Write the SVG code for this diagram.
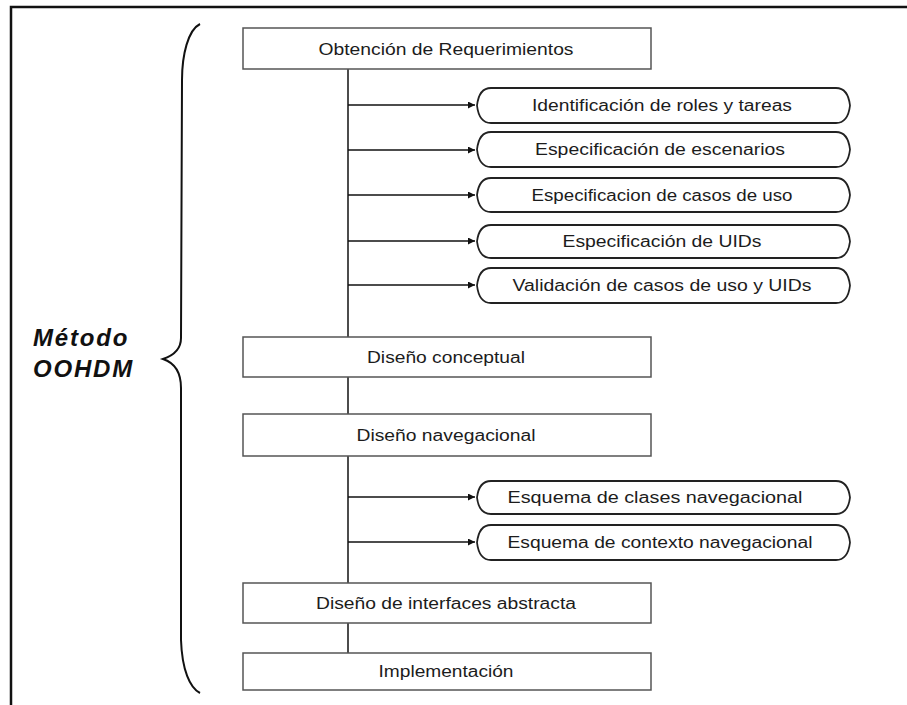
<svg xmlns="http://www.w3.org/2000/svg" width="907" height="705" viewBox="0 0 907 705">
  <style>
    .frame { fill: none; stroke: #111; stroke-width: 2.5; }
    .brace { fill: none; stroke: #111; stroke-width: 2; }
    .box { fill: #fff; stroke: #555; stroke-width: 1.5; }
    .pill { fill: #fff; stroke: #222; stroke-width: 1.8; }
    .lbl { font-family: "Liberation Sans", Arial, sans-serif; font-size: 16px; fill: #1c1c1c; text-anchor: middle; }
    .title { font-family: "Liberation Sans", Arial, sans-serif; font-size: 24px; font-weight: bold; font-style: italic; fill: #111; letter-spacing: 1.8px; }
    .conn { fill: none; stroke: #111; stroke-width: 1.5; }
  </style>
  <defs>
    <marker id="arrow" viewBox="0 0 10 10" refX="10" refY="5" markerWidth="9" markerHeight="7" markerUnits="userSpaceOnUse" orient="auto">
      <path d="M0,0 L10,5 L0,10 Z" fill="#111"/>
    </marker>
  </defs>

  <rect width="907" height="705" fill="#fff"/>

  <!-- outer frame: top and left edges -->
  <path class="frame" d="M11,705 V7 H907"/>

  <!-- curly brace grouping the method phases -->
  <path class="brace" d="M200,24 C188,30 182,55 182,80 L181,338 C181,350 172,356 163,359 C172,362 181,370 181,388 L181,640 C182,670 190,688 200,693"/>

  <g id="method-label">
    <text class="title" x="33" y="346">Método</text>
    <text class="title" x="33" y="377">OOHDM</text>
  </g>

  <!-- connectors -->
  <g id="connectors">
    <line class="conn" x1="348" y1="69" x2="348" y2="337"/>
    <line class="conn" x1="348" y1="377" x2="348" y2="414"/>
    <line class="conn" x1="348" y1="456" x2="348" y2="583"/>
    <line class="conn" x1="348" y1="623" x2="348" y2="653"/>
    <line class="conn" x1="348" y1="105" x2="475" y2="105" marker-end="url(#arrow)"/>
    <line class="conn" x1="348" y1="150" x2="475" y2="150" marker-end="url(#arrow)"/>
    <line class="conn" x1="348" y1="195" x2="475" y2="195" marker-end="url(#arrow)"/>
    <line class="conn" x1="348" y1="241" x2="475" y2="241" marker-end="url(#arrow)"/>
    <line class="conn" x1="348" y1="285" x2="475" y2="285" marker-end="url(#arrow)"/>
    <line class="conn" x1="348" y1="497" x2="475" y2="497" marker-end="url(#arrow)"/>
    <line class="conn" x1="348" y1="542" x2="475" y2="542" marker-end="url(#arrow)"/>
  </g>

  <!-- phase boxes -->
  <g id="obtencion">
    <rect class="box" x="243" y="28" width="408" height="41"/>
    <text class="lbl" x="446" y="55" textLength="255" lengthAdjust="spacingAndGlyphs">Obtención de Requerimientos</text>
  </g>
  <g id="conceptual">
    <rect class="box" x="243" y="337" width="408" height="40"/>
    <text class="lbl" x="446" y="363" textLength="158" lengthAdjust="spacingAndGlyphs">Diseño conceptual</text>
  </g>
  <g id="navegacional">
    <rect class="box" x="243" y="414" width="408" height="42"/>
    <text class="lbl" x="446" y="441" textLength="179" lengthAdjust="spacingAndGlyphs">Diseño navegacional</text>
  </g>
  <g id="abstracta">
    <rect class="box" x="243" y="583" width="408" height="40"/>
    <text class="lbl" x="446" y="609" textLength="260" lengthAdjust="spacingAndGlyphs">Diseño de interfaces abstracta</text>
  </g>
  <g id="implementacion">
    <rect class="box" x="243" y="653" width="408" height="37"/>
    <text class="lbl" x="446" y="677" textLength="135" lengthAdjust="spacingAndGlyphs">Implementación</text>
  </g>

  <!-- activity pills -->
  <g id="roles-tareas">
    <path class="pill" d="M491,88 H836 Q848,88 850,105.5 Q848,123 836,123 H491 Q479,123 477,105.5 Q479,88 491,88 Z"/>
    <text class="lbl" x="662" y="111" textLength="260" lengthAdjust="spacingAndGlyphs">Identificación de roles y tareas</text>
  </g>
  <g id="escenarios">
    <path class="pill" d="M491,132 H836 Q848,132 850,149.5 Q848,167 836,167 H491 Q479,167 477,149.5 Q479,132 491,132 Z"/>
    <text class="lbl" x="660" y="155" textLength="250" lengthAdjust="spacingAndGlyphs">Especificación de escenarios</text>
  </g>
  <g id="casos-uso">
    <path class="pill" d="M491,178 H836 Q848,178 850,195 Q848,212 836,212 H491 Q479,212 477,195 Q479,178 491,178 Z"/>
    <text class="lbl" x="662" y="201" textLength="261" lengthAdjust="spacingAndGlyphs">Especificacion de casos de uso</text>
  </g>
  <g id="uids">
    <path class="pill" d="M491,225 H836 Q848,225 850,241.5 Q848,258 836,258 H491 Q479,258 477,241.5 Q479,225 491,225 Z"/>
    <text class="lbl" x="662" y="247" textLength="199" lengthAdjust="spacingAndGlyphs">Especificación de UIDs</text>
  </g>
  <g id="validacion">
    <path class="pill" d="M491,268 H836 Q848,268 850,285.5 Q848,303 836,303 H491 Q479,303 477,285.5 Q479,268 491,268 Z"/>
    <text class="lbl" x="662" y="291" textLength="299" lengthAdjust="spacingAndGlyphs">Validación de casos de uso y UIDs</text>
  </g>
  <g id="clases-nav">
    <path class="pill" d="M491,481 H836 Q848,481 850,497.5 Q848,514 836,514 H491 Q479,514 477,497.5 Q479,481 491,481 Z"/>
    <text class="lbl" x="655" y="503" textLength="295" lengthAdjust="spacingAndGlyphs">Esquema de clases navegacional</text>
  </g>
  <g id="contexto-nav">
    <path class="pill" d="M491,525 H836 Q848,525 850,542.5 Q848,560 836,560 H491 Q479,560 477,542.5 Q479,525 491,525 Z"/>
    <text class="lbl" x="660" y="548" textLength="305" lengthAdjust="spacingAndGlyphs">Esquema de contexto navegacional</text>
  </g>
</svg>
